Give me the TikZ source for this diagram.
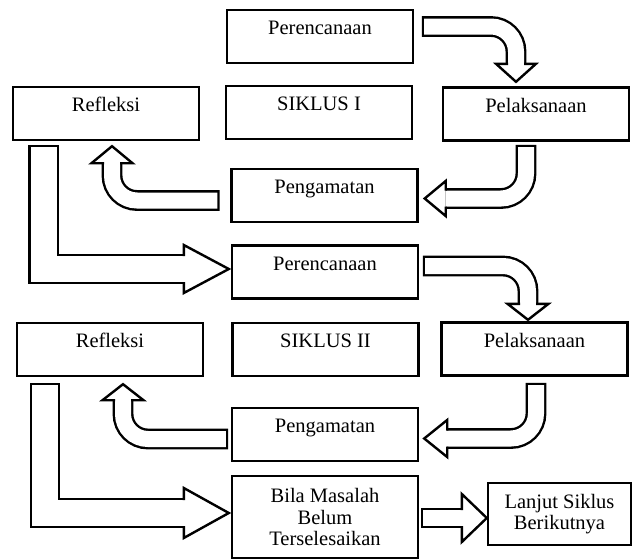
\documentclass[tikz,border=0pt]{standalone}
\usepackage{fontspec}
\setmainfont{Liberation Serif}
\newcommand\boxfont{\fontsize{20.5}{21.5}\selectfont}

\tikzset{every picture/.style={line width=2.4pt}}
\tikzset{
  box/.style={draw, minimum width=186pt, minimum height=53pt, inner sep=0pt, text height=14pt, text depth=18pt, font=\boxfont},
  tallbox/.style={draw, minimum width=186pt, minimum height=82pt, inner sep=0pt, align=center, font=\boxfont},
  shaft/.style={double=white, double distance=16pt, line cap=rect, shorten <=9pt, shorten >=8pt, rounded corners=25pt},
  wideshaft/.style={double=white, double distance=26pt, line cap=rect, shorten <=14pt, shorten >=13pt},
  pics/bhead/.style n args={3}{code={
    \fill[white] (0,0) -- (-#1,#2) -- (-#1,-#2) -- cycle;
    \draw[line join=miter] (-#1,#3) -- (-#1,#2) -- (0,0) -- (-#1,-#2) -- (-#1,-#3);
  }}
}

\begin{document}
\begin{tikzpicture}[x=1pt,y=1pt,yscale=-1,xscale=1]
\useasboundingbox (0,0) rectangle (633,560);

% Siklus I
\node[box] (per1) at (320,36.5) {Perencanaan};
\node[box] (ref1) at (106,113.5) {Refleksi};
\node[box] (sik1) at (319,112.5) {SIKLUS I};
\node[box] (pel1) at (536,114) {Pelaksanaan};
\node[box] (pen1) at (324.5,195.5) {Pengamatan};
% Siklus II
\node[box] (per2) at (325,272) {Perencanaan};
\node[box] (ref2) at (110,349.5) {Refleksi};
\node[box] (sik2) at (325.5,349.5) {SIKLUS II};
\node[box] (pel2) at (534.5,349) {Pelaksanaan};
\node[box] (pen2) at (325,434.5) {Pengamatan};
\node[tallbox] (bila) at (325,517) {Bila Masalah\\Belum\\Terselesaikan};
\node[tallbox, minimum width=143pt, minimum height=62pt] (lanjut) at (559.5,514) {Lanjut Siklus\\Berikutnya};

% arrow tips
\coordinate (tip1) at ([shift={(-20,-4.5)}]pel1.north);
\coordinate (tip2) at ([shift={(6,3)}]pen1.east);
\coordinate (tip3) at ([shift={(6,5)}]ref1.south);
\coordinate (tip4) at ([shift={(-2,-3)}]per2.west);
\coordinate (tip5) at ([shift={(-6.5,-1.5)}]pel2.north);
\coordinate (tip6) at ([shift={(5,4)}]pen2.east);
\coordinate (tip7) at ([shift={(13,7)}]ref2.south);
\coordinate (tip8) at ([shift={(-2,-4)}]bila.west);
\coordinate (tip9) at ([shift={(0,4)}]lanjut.west);

% Block arrows
\draw[shaft] ([shift={(9,-10)}]per1.east) -| ([shift={(0,-18)}]tip1);
\pic[rotate=-90] at (tip1) {bhead={18}{20}{8}};
\draw[shaft] ([shift={(-10,4.5)}]pel1.south) |- ([shift={(21,0)}]tip2);
\pic[rotate=180] at (tip2) {bhead={21}{17.5}{8}};
\draw[shaft] ([shift={(-12,5)}]pen1.west) -| ([shift={(0,17)}]tip3);
\pic[rotate=90] at (tip3) {bhead={17}{20.5}{8}};
\draw[wideshaft] ([shift={(-62.5,5)}]ref1.south) |- ([shift={(-45,0)}]tip4);
\pic at (tip4) {bhead={45}{24}{13}};

\draw[shaft] ([shift={(5,-6)}]per2.east) -| ([shift={(0,-16)}]tip5);
\pic[rotate=-90] at (tip5) {bhead={16}{20.5}{8}};
\draw[shaft] ([shift={(1.5,7.5)}]pel2.south) |- ([shift={(23,0)}]tip6);
\pic[rotate=180] at (tip6) {bhead={23}{18.5}{8}};
\draw[shaft] ([shift={(-4,4.5)}]pen2.west) -| ([shift={(0,16)}]tip7);
\pic[rotate=90] at (tip7) {bhead={16}{20.5}{8}};
\draw[wideshaft] ([shift={(-65,7)}]ref2.south) |- ([shift={(-45,0)}]tip8);
\pic at (tip8) {bhead={45}{25}{13}};
\draw[shaft] ([shift={(3,1)}]bila.east) -- ([shift={(-25,0)}]tip9);
\pic at (tip9) {bhead={25}{24}{8}};

\end{tikzpicture}
\end{document}
